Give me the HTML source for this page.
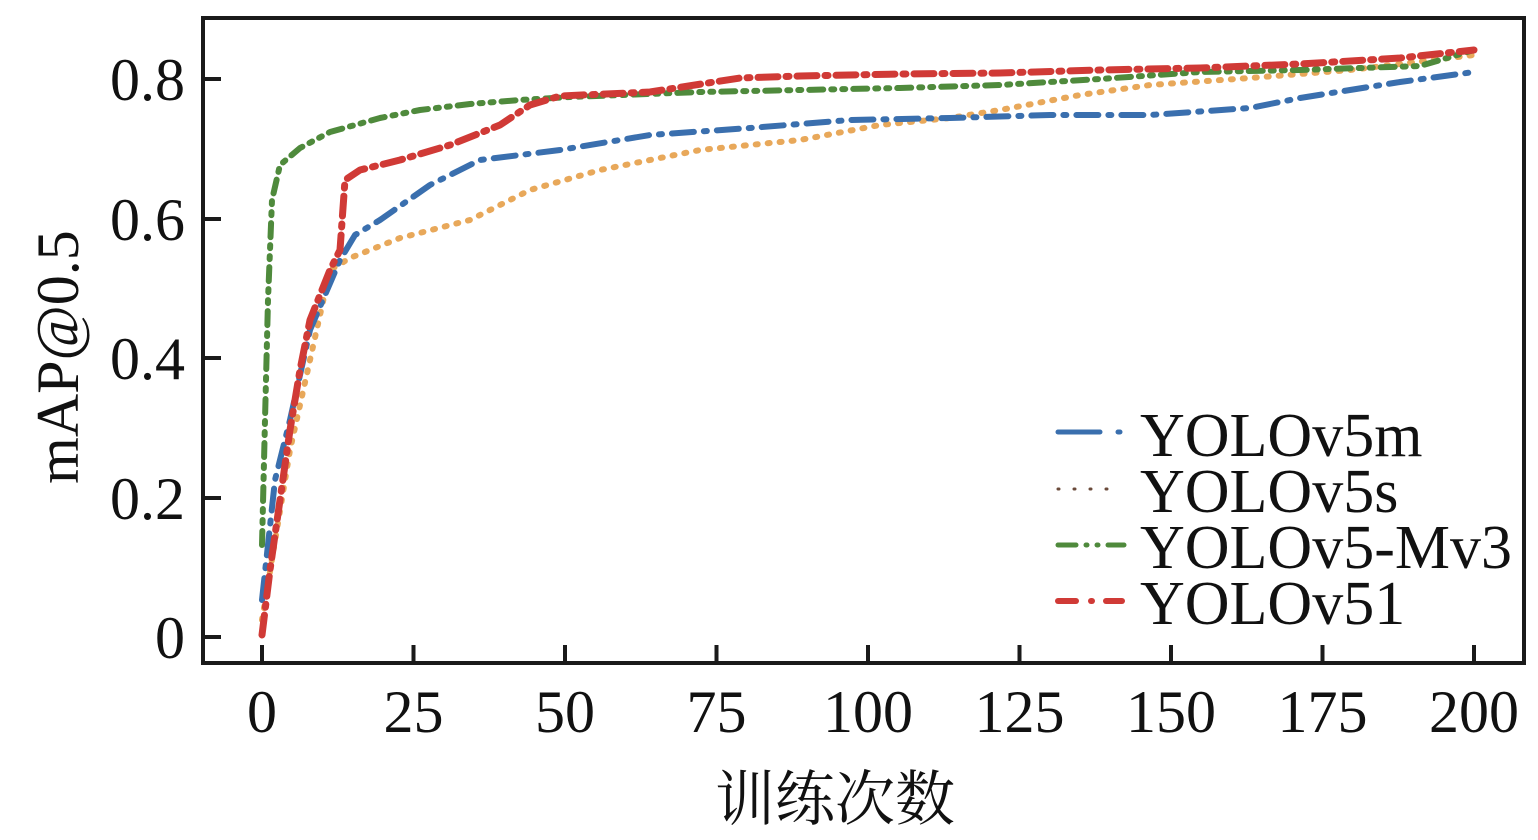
<!DOCTYPE html>
<html><head><meta charset="utf-8"><style>
body{margin:0;background:#fff;}
svg{display:block;}
text{font-family:"Liberation Serif","Noto Serif CJK SC",serif;fill:#111;}
</style></head><body>
<svg width="1538" height="840" viewBox="0 0 1538 840" xmlns="http://www.w3.org/2000/svg">
<g fill="none" stroke-width="6" stroke-linecap="round" stroke-linejoin="round">
<polyline stroke="#e8a85a" stroke-dasharray="2,10" points="262,620 290,450 330,270 350,258 400,238 470,220 530,190 600,170 700,150 800,140 880,125 950,118 1000,110 1080,95 1150,85 1250,78 1350,70 1474,55"/>
<polyline stroke="#3a6fae" stroke-dasharray="22,10,3,10" points="262,600 275,480 290,420 310,330 340,260 355,235 380,220 430,185 480,160 560,150 650,135 750,128 850,120 950,118 1050,115 1150,115 1250,108 1300,98 1400,82 1474,72"/>
<polyline stroke="#4f8a3c" stroke-dasharray="14,8,3,8,3,8" points="262,545 265,420 268,300 272,200 280,165 300,148 330,132 380,118 420,110 470,104 520,100 570,97 700,92 800,90 900,88 1000,85 1100,79 1200,72 1300,70 1420,66 1474,50"/>
<polyline stroke="#d03a36" stroke-width="7" stroke-dasharray="20,8,3,8" points="262,635 270,570 280,500 290,430 300,370 310,320 330,270 340,250 345,180 360,170 400,160 450,145 500,125 530,105 560,96 650,92 740,78 800,76 900,74 1000,73 1100,70 1200,68 1300,64 1400,58 1474,50"/>
</g>
<rect x="203" y="18" width="1321" height="645" fill="none" stroke="#1a1a1a" stroke-width="4"/>
<g stroke="#1a1a1a" stroke-width="4">
<line x1="205" y1="637" x2="221" y2="637"/><line x1="205" y1="498" x2="221" y2="498"/><line x1="205" y1="358" x2="221" y2="358"/><line x1="205" y1="219" x2="221" y2="219"/><line x1="205" y1="79" x2="221" y2="79"/>
<line x1="262" y1="661" x2="262" y2="645"/><line x1="413.5" y1="661" x2="413.5" y2="645"/><line x1="565" y1="661" x2="565" y2="645"/><line x1="716.5" y1="661" x2="716.5" y2="645"/><line x1="868" y1="661" x2="868" y2="645"/><line x1="1019.5" y1="661" x2="1019.5" y2="645"/><line x1="1171" y1="661" x2="1171" y2="645"/><line x1="1322.5" y1="661" x2="1322.5" y2="645"/><line x1="1474" y1="661" x2="1474" y2="645"/>
</g>
<g font-size="60" text-anchor="end">
<text x="185" y="658">0</text><text x="185" y="519">0.2</text><text x="185" y="379">0.4</text><text x="185" y="240">0.6</text><text x="185" y="100">0.8</text>
</g>
<g font-size="60" text-anchor="middle">
<text x="262" y="732">0</text><text x="413.5" y="732">25</text><text x="565" y="732">50</text><text x="716.5" y="732">75</text><text x="868" y="732">100</text><text x="1019.5" y="732">125</text><text x="1171" y="732">150</text><text x="1322.5" y="732">175</text><text x="1474" y="732">200</text>
</g>
<text x="835" y="820" font-size="60" text-anchor="middle">训练次数</text>
<text transform="translate(78,357) rotate(-90)" font-size="60" text-anchor="middle">mAP@0.5</text>
<g stroke-width="5" stroke-linecap="round">
<line x1="1058" y1="432" x2="1100" y2="432" stroke="#3a6fae"/><line x1="1118" y1="432" x2="1120" y2="432" stroke="#3a6fae"/>
<line x1="1058" y1="489" x2="1120" y2="489" stroke="#6a4a3a" stroke-dasharray="1,15" stroke-width="3"/>
<line x1="1058" y1="545" x2="1076" y2="545" stroke="#4f8a3c"/><line x1="1086" y1="545" x2="1087" y2="545" stroke="#4f8a3c"/><line x1="1097" y1="545" x2="1098" y2="545" stroke="#4f8a3c"/><line x1="1108" y1="545" x2="1124" y2="545" stroke="#4f8a3c"/>
<line x1="1058" y1="601" x2="1076" y2="601" stroke="#d03a36" stroke-width="6"/><line x1="1091" y1="601" x2="1092" y2="601" stroke="#d03a36" stroke-width="6"/><line x1="1106" y1="601" x2="1122" y2="601" stroke="#d03a36" stroke-width="6"/>
</g>
<g font-size="62">
<text x="1140" y="456">YOLOv5m</text><text x="1140" y="512">YOLOv5s</text><text x="1140" y="568">YOLOv5-Mv3</text><text x="1140" y="624">YOLOv51</text>
</g>
</svg>
</body></html>
